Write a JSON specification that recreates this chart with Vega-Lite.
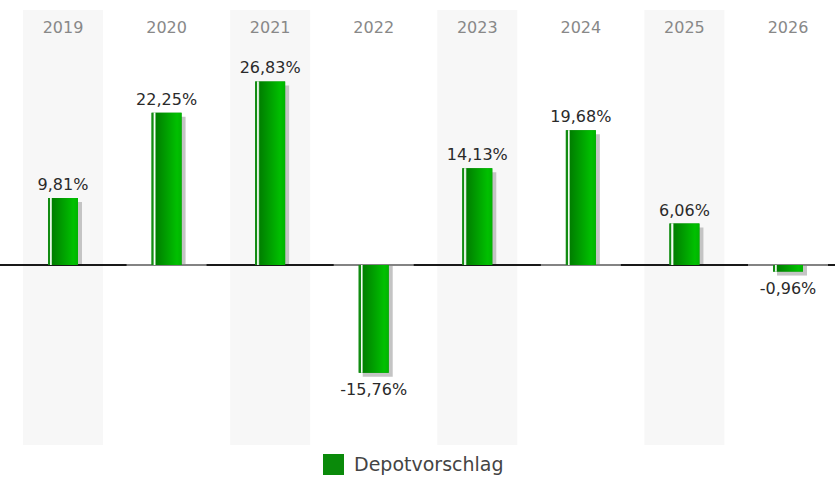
{
  "$schema": "https://vega.github.io/schema/vega-lite/v6.json",
  "width": 835,
  "height": 481,
  "autosize": {"type": "none"},
  "padding": 0,
  "background": "white",
  "config": {"view": {"stroke": null}, "font": "DejaVu Sans"},
  "data": {
    "values": [
      {"year": "2019", "value": 9.81, "label": "9,81%", "series": "Depotvorschlag"},
      {"year": "2020", "value": 22.25, "label": "22,25%", "series": "Depotvorschlag"},
      {"year": "2021", "value": 26.83, "label": "26,83%", "series": "Depotvorschlag"},
      {"year": "2022", "value": -15.76, "label": "-15,76%", "series": "Depotvorschlag"},
      {"year": "2023", "value": 14.13, "label": "14,13%", "series": "Depotvorschlag"},
      {"year": "2024", "value": 19.68, "label": "19,68%", "series": "Depotvorschlag"},
      {"year": "2025", "value": 6.06, "label": "6,06%", "series": "Depotvorschlag"},
      {"year": "2026", "value": -0.96, "label": "-0,96%", "series": "Depotvorschlag"}
    ]
  },
  "encoding": {
    "x": {
      "field": "year",
      "type": "nominal",
      "sort": null,
      "scale": {"domain": ["2019", "2020", "2021", "2022", "2023", "2024", "2025", "2026"], "range": [23, 828], "paddingInner": 0.2276, "paddingOuter": 0},
      "axis": {
        "orient": "top",
        "title": null,
        "domain": false,
        "ticks": false,
        "labelAngle": 0,
        "labelPadding": 0,
        "offset": -35,
        "zindex": 1,
        "labelFontSize": 16,
        "labelColor": "#888888",
        "labelFont": "DejaVu Sans"
      }
    }
  },
  "layer": [
    {
      "transform": [{"filter": "indexof(['2019','2021','2023','2025'], datum.year) >= 0"}],
      "mark": {"type": "bar", "fill": "#f7f7f7"},
      "encoding": {
        "y": {"datum": 37.28, "type": "quantitative", "scale": {"domain": [-31.58, 38.74], "nice": false, "zero": false}, "axis": null},
        "y2": {"datum": -26.32}
      }
    },
    {
      "mark": {"type": "bar", "fill": "#c4c4c4", "xOffset": 4, "yOffset": 4, "y2Offset": 0, "width": {"band": 0.375}},
      "encoding": {"y": {"field": "value", "type": "quantitative"}, "y2": {"datum": 0}}
    },
    {
      "mark": {"type": "rule", "color": "#1a1a1a", "strokeWidth": 1.6},
      "encoding": {"y": {"datum": 0, "type": "quantitative"}, "x": null}
    },
    {
      "transform": [{"filter": "indexof(['2020','2022','2024','2026'], datum.year) >= 0"}],
      "mark": {"type": "tick", "color": "#b0b0b0", "thickness": 1.8, "size": 80, "orient": "horizontal"},
      "encoding": {"y": {"datum": 0, "type": "quantitative"}}
    },
    {
      "mark": {"type": "bar", "width": {"band": 0.375}, "strokeWidth": 0},
      "encoding": {
        "y": {"field": "value", "type": "quantitative"},
        "color": {
          "field": "series",
          "type": "nominal",
          "scale": {"range": ["#0a8a0a"]},
          "legend": {
            "title": null,
            "orient": "none",
            "legendX": 323,
            "legendY": 454,
            "padding": 0,
            "symbolType": "square",
            "symbolSize": 441,
            "symbolStrokeWidth": 0,
            "labelFontSize": 19,
            "labelFont": "DejaVu Sans",
            "labelColor": "#444444",
            "labelOffset": 10
          }
        }
      }
    },
    {
      "mark": {
        "type": "bar",
        "width": {"band": 0.375},
        "strokeWidth": 0,
        "fill": {
          "gradient": "linear",
          "x1": 0, "x2": 1, "y1": 0, "y2": 0,
          "stops": [
            {"offset": 0, "color": "#128c12"},
            {"offset": 0.06, "color": "#128c12"},
            {"offset": 0.07, "color": "#d8f0d8"},
            {"offset": 0.1, "color": "#ffffff"},
            {"offset": 0.13, "color": "#7cc47c"},
            {"offset": 0.15, "color": "#007f00"},
            {"offset": 0.85, "color": "#00c000"},
            {"offset": 1, "color": "#00b400"}
          ]
        }
      },
      "encoding": {"y": {"field": "value", "type": "quantitative"}}
    },
    {
      "transform": [{"filter": "datum.value >= 0"}],
      "mark": {"type": "text", "baseline": "alphabetic", "dy": -8, "fontSize": 16, "color": "#2a2a2a", "font": "DejaVu Sans"},
      "encoding": {"y": {"field": "value", "type": "quantitative"}, "text": {"field": "label"}}
    },
    {
      "transform": [{"filter": "datum.value < 0"}],
      "mark": {"type": "text", "baseline": "top", "dy": 9, "fontSize": 16, "color": "#2a2a2a", "font": "DejaVu Sans"},
      "encoding": {"y": {"field": "value", "type": "quantitative"}, "text": {"field": "label"}}
    }
  ]
}
